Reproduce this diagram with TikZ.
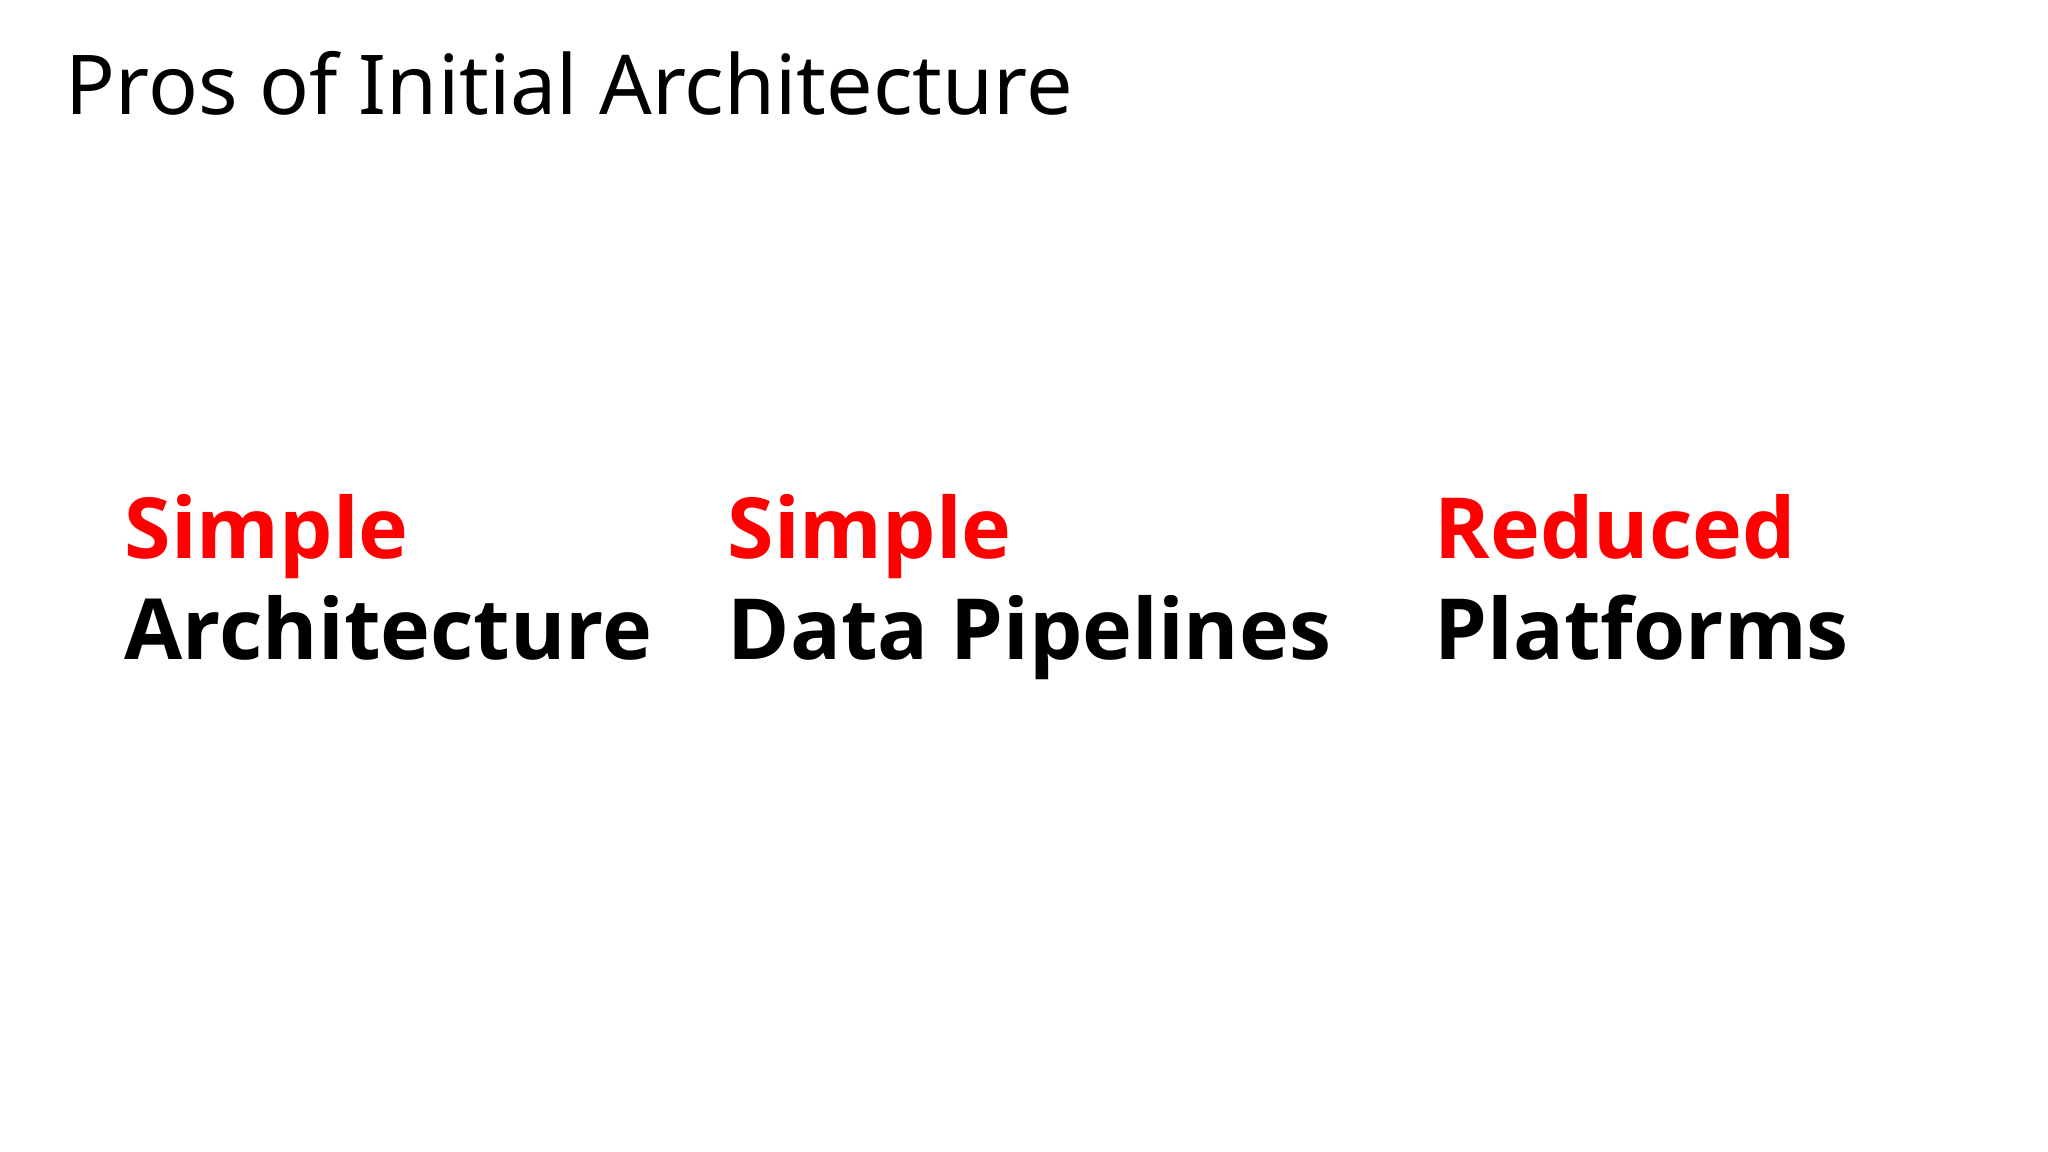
\documentclass[tikz,border=0pt]{standalone}
\usepackage{fontspec}
\setmainfont{Noto Sans}
\newfontfamily\heavyface{Open Sans}
\usetikzlibrary{positioning}
\definecolor{prored}{RGB}{255,0,0}
\begin{document}
\begin{tikzpicture}
    \useasboundingbox (0,0) rectangle (20.48,11.52);
    \tikzset{
        head/.style={anchor=base west, inner sep=0pt, font=\heavyface\fontsize{24}{28}\selectfont\bfseries, text=prored},
        sub/.style={anchor=base west, inner sep=0pt, font=\heavyface\fontsize{24}{28}\selectfont\bfseries}
    }
    \node[anchor=base west, inner sep=0pt, font=\fontsize{23.5}{28}\selectfont] (title) at (0.65,10.37) {Pros of Initial Architecture};

    \node[head] (h1) at (1.24,5.93) {Simple};
    \node[sub]  (s1) at (1.24,4.92) {Architecture};
    \node[head] (h2) at (7.27,5.93) {Simple};
    \node[sub]  (s2) at (7.27,4.92) {Data Pipelines};
    \node[head] (h3) at (14.34,5.93) {Reduced};
    \node[sub]  (s3) at (14.34,4.92) {Platforms};
\end{tikzpicture}
\end{document}
